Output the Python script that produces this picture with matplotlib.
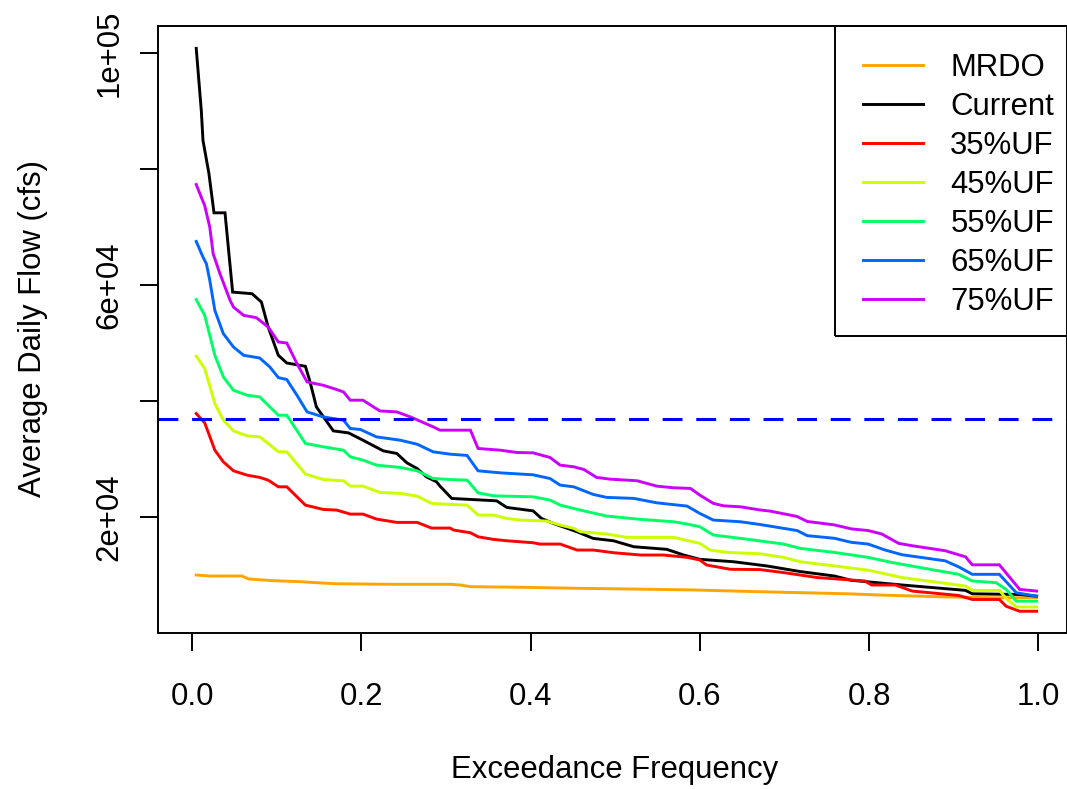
import matplotlib
matplotlib.use("Agg")
import matplotlib.pyplot as plt
from matplotlib.patches import Rectangle

plt.rcParams['font.family'] = ['Liberation Sans', 'DejaVu Sans']

# ---- data ----
mrdo_x = [0.005, 0.021, 0.059, 0.067, 0.096, 0.128, 0.147, 0.169, 0.234, 0.305, 0.317, 0.329,
          0.392, 0.455, 0.541, 0.593, 0.660, 0.775, 0.819, 0.883, 0.946, 0.998]
mrdo_y = [9990, 9820, 9820, 9300, 9010, 8840, 8670, 8490, 8390, 8390, 8270, 7980,
          7870, 7700, 7530, 7410, 7150, 6750, 6510, 6240, 6070, 6070]

cur_x = [0.005, 0.011, 0.013, 0.020, 0.026, 0.039, 0.048, 0.071, 0.082, 0.090, 0.102, 0.112,
         0.134, 0.139, 0.147, 0.167, 0.185, 0.202, 0.226, 0.242, 0.254, 0.266, 0.277, 0.289,
         0.293, 0.307, 0.360, 0.372, 0.403, 0.413, 0.427, 0.455, 0.474, 0.498, 0.522, 0.561,
         0.581, 0.600, 0.640, 0.679, 0.719, 0.759, 0.779, 0.839, 0.914, 0.922, 0.978, 0.998]
cur_y = [100850, 90100, 84950, 79260, 72480, 72480, 58800, 58520, 57090, 52780, 47900, 46570,
         46000, 43590, 38990, 34860, 34510, 33250, 31410, 30960, 29340, 28370, 26930, 26070,
         25330, 23200, 22790, 21650, 21060, 19750, 18890, 17450, 16310, 15900, 14870, 14420,
         13440, 12700, 12280, 11560, 10580, 9820, 9080, 8270, 7340, 6750, 6630, 6340]

uf35_x = [0.005, 0.015, 0.027, 0.037, 0.049, 0.065, 0.080, 0.090, 0.102, 0.112, 0.134, 0.155,
          0.171, 0.187, 0.202, 0.218, 0.242, 0.266, 0.283, 0.305, 0.309, 0.329, 0.338, 0.356,
          0.372, 0.403, 0.411, 0.435, 0.455, 0.474, 0.498, 0.530, 0.557, 0.585, 0.600, 0.608,
          0.636, 0.671, 0.699, 0.739, 0.795, 0.803, 0.831, 0.851, 0.906, 0.922, 0.954, 0.962,
          0.978, 0.998]
uf35_y = [37850, 36240, 31530, 29520, 27970, 27220, 26830, 26360, 25210, 25210, 22050, 21310,
          21190, 20500, 20500, 19640, 19070, 19070, 18090, 18090, 17750, 17280, 16590, 16140,
          15900, 15560, 15330, 15330, 14300, 14300, 13840, 13440, 13440, 13040, 12580, 11720,
          10980, 10930, 10410, 9550, 8960, 8270, 8270, 7220, 6460, 5770, 5770, 4600,
          3740, 3740]

uf45_x = [0.005, 0.015, 0.027, 0.037, 0.049, 0.065, 0.080, 0.090, 0.102, 0.112, 0.134, 0.155,
          0.179, 0.187, 0.202, 0.222, 0.246, 0.266, 0.283, 0.305, 0.325, 0.338, 0.356, 0.372,
          0.388, 0.419, 0.435, 0.451, 0.459, 0.490, 0.514, 0.569, 0.600, 0.612, 0.632, 0.671,
          0.699, 0.719, 0.759, 0.799, 0.839, 0.878, 0.914, 0.922, 0.954, 0.962, 0.974, 0.998]
uf45_y = [47730, 45610, 39580, 36700, 34860, 34000, 33820, 32690, 31240, 31240, 27400, 26470,
          26250, 25330, 25330, 24240, 24070, 23600, 22350, 22170, 22050, 20330, 20330, 19750,
          19470, 19300, 18610, 18040, 17450, 17060, 16490, 16490, 15450, 14300, 13900, 13660,
          13030, 12270, 11560, 10820, 9550, 8790, 8080, 7340, 7340, 5940, 4480, 4480]

uf55_x = [0.005, 0.015, 0.027, 0.037, 0.049, 0.065, 0.080, 0.090, 0.102, 0.112, 0.134, 0.155,
          0.179, 0.187, 0.202, 0.218, 0.246, 0.266, 0.285, 0.305, 0.325, 0.338, 0.356, 0.403,
          0.423, 0.435, 0.459, 0.490, 0.530, 0.569, 0.585, 0.600, 0.616, 0.660, 0.699, 0.719,
          0.759, 0.799, 0.827, 0.878, 0.906, 0.922, 0.950, 0.962, 0.974, 0.998]
uf55_y = [57500, 54790, 47900, 44160, 41870, 41010, 40720, 39280, 37560, 37560, 32690, 32110,
          31530, 30380, 29810, 28950, 28550, 27970, 26640, 26470, 26360, 24170, 23660, 23480,
          22920, 22050, 21190, 20160, 19590, 19180, 18780, 18320, 16890, 16090, 15330, 14580,
          13890, 13030, 12150, 10820, 10110, 8960, 8670, 7510, 5480, 5480]

uf65_x = [0.005, 0.013, 0.017, 0.021, 0.027, 0.037, 0.049, 0.061, 0.080, 0.092, 0.102, 0.112,
          0.124, 0.136, 0.155, 0.179, 0.187, 0.199, 0.218, 0.246, 0.266, 0.285, 0.305, 0.325,
          0.338, 0.364, 0.403, 0.423, 0.435, 0.451, 0.474, 0.490, 0.522, 0.549, 0.585, 0.600,
          0.616, 0.648, 0.671, 0.715, 0.727, 0.759, 0.779, 0.799, 0.819, 0.839, 0.890, 0.906,
          0.922, 0.954, 0.974, 0.998]
uf65_y = [67540, 64840, 63700, 60820, 55650, 51640, 49330, 47900, 47430, 45880, 44050, 43710,
          41010, 38130, 37270, 36700, 35270, 35100, 33820, 33250, 32560, 31240, 30840, 30620,
          27970, 27620, 27280, 26640, 25500, 25210, 23900, 23380, 23210, 22450, 21880, 20620,
          19470, 19180, 18710, 17660, 16780, 16330, 15630, 15330, 14300, 13490, 12440, 11390,
          10110, 10110, 6930, 6340]

uf75_x = [0.005, 0.011, 0.015, 0.021, 0.025, 0.033, 0.045, 0.049, 0.061, 0.076, 0.090, 0.102,
          0.112, 0.124, 0.136, 0.155, 0.171, 0.179, 0.187, 0.202, 0.222, 0.242, 0.258, 0.285,
          0.293, 0.329, 0.338, 0.364, 0.384, 0.403, 0.423, 0.435, 0.451, 0.463, 0.478, 0.494,
          0.526, 0.549, 0.569, 0.589, 0.600, 0.616, 0.628, 0.648, 0.671, 0.683, 0.715, 0.727,
          0.759, 0.779, 0.799, 0.815, 0.835, 0.851, 0.890, 0.914, 0.922, 0.954, 0.978, 0.998]
uf75_y = [77360, 75170, 73740, 70010, 65420, 61980, 57380, 56220, 54790, 54390, 52780, 50190,
          50020, 46470, 43300, 42730, 41990, 41580, 40150, 40150, 38300, 38130, 37270, 35550,
          34980, 34980, 31820, 31530, 31130, 31070, 30270, 28950, 28660, 28200, 26830, 26530,
          26250, 25330, 25040, 24930, 23780, 22350, 21930, 21760, 21220, 21020, 20090, 19230,
          18640, 17950, 17660, 17070, 15450, 15040, 14180, 13130, 11750, 11750, 7510, 7220]

threshold = 36900

series_labels = ["MRDO", "Current", "35%UF", "45%UF", "55%UF", "65%UF", "75%UF"]
series_colors = ["#FFA500", "#000000", "#FF0000", "#CCFF00", "#00FF66", "#0066FF", "#CC00FF"]
series_x = [mrdo_x, cur_x, uf35_x, uf45_x, uf55_x, uf65_x, uf75_x]
series_y = [mrdo_y, cur_y, uf35_y, uf45_y, uf55_y, uf65_y, uf75_y]

x_ticks = [0.0, 0.2, 0.4, 0.6, 0.8, 1.0]
x_ticklabels = ["0.0", "0.2", "0.4", "0.6", "0.8", "1.0"]
y_ticks = [20000, 40000, 60000, 80000, 100000]
y_ticklabels = ["2e+04", "", "6e+04", "", "1e+05"]

FS = 22.4

# ---- figure ----
W, H = 1067, 789
fig = plt.figure(figsize=(W / 100, H / 100), dpi=100)
L, R, T, B = 158, 1066.5, 25.7, 633
ax = fig.add_axes([L / W, 1 - B / H, (R - L) / W, (B - T) / H])

for xs, ys, c, lab in zip(series_x, series_y, series_colors, series_labels):
    ax.plot(xs, ys, color=c, lw=2.1, label=lab, solid_joinstyle='miter')

ax.axhline(threshold, color="#0000FF", lw=2.2, dashes=(6.5, 4.5))

# axis limits so that x=0 -> px 192, x=1 -> px 1038.3 ; y=2e4 -> px 517, 1e5 -> px 53.3
px_per_x = 1038.3 - 192
ax.set_xlim((L - 192) / px_per_x, (R - 192) / px_per_x)
px_per_y = (517 - 53.3) / 80000
ax.set_ylim(20000 - (B - 517) / px_per_y, 100000 + (53.3 - T) / px_per_y)

ax.set_xticks(x_ticks)
ax.set_xticklabels(x_ticklabels)
ax.set_yticks(y_ticks)
ax.set_yticklabels(y_ticklabels, rotation=90, va='center')

for s in ax.spines.values():
    s.set_linewidth(1.4)
ax.tick_params(axis='both', length=13, width=1.4, labelsize=FS, direction='out')
ax.tick_params(axis='x', pad=22)
ax.tick_params(axis='y', pad=11)

fig.text(615 / W, 1 - 770 / H, "Exceedance Frequency", fontsize=FS, ha='center', va='center')
fig.text(33 / W, 1 - 329 / H, "Average Daily Flow (cfs)", fontsize=FS, ha='center', va='center',
         rotation=90)

# legend content (no frame); frame drawn separately to match the R box
anchor_x = (1082 - L) / (R - L)
anchor_y = 1.0 + 1.0 / (B - T)
leg = ax.legend(loc='upper right', bbox_to_anchor=(anchor_x, anchor_y), fontsize=FS,
                frameon=False, borderaxespad=0, handlelength=1.95, handletextpad=0.87,
                borderpad=0.9, labelspacing=0.29)
for line in leg.get_lines():
    line.set_linewidth(2.1)

box_left, box_bottom = 835, 336
ax.add_patch(Rectangle(((box_left - L) / (R - L), 1 - (box_bottom - T) / (B - T)),
                       (R + 5 - box_left) / (R - L), (box_bottom - T) / (B - T),
                       transform=ax.transAxes, fill=False, edgecolor='black', lw=1.4,
                       clip_on=False, zorder=5))

fig.savefig("out.png", dpi=100)
